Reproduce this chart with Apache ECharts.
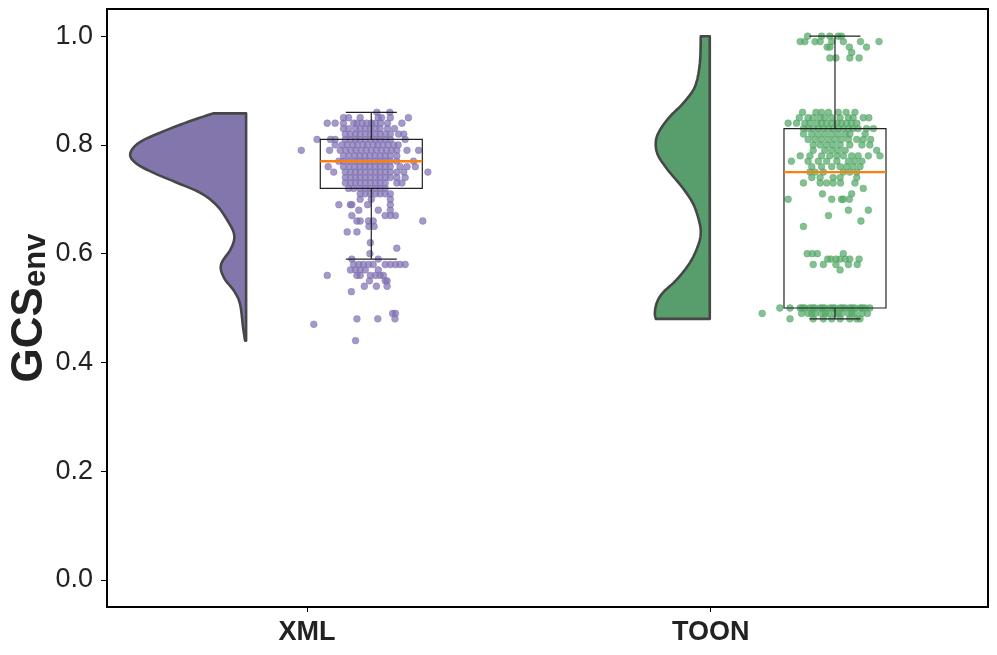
<!DOCTYPE html>
<html>
<head>
<meta charset="utf-8">
<script src="https://cdn.jsdelivr.net/npm/echarts@6/dist/echarts.min.js"></script>
<style>
html,body{margin:0;padding:0;background:#fff;}
#chart{width:997px;height:655px;}
</style>
</head>
<body>
<div id="chart"></div>
<script>
// ---------------- data ----------------
const categories = ['XML', 'TOON'];
const yAxisTitle = ['GCS', 'env'];
const groupPos = [0, 1];
const tickPos = [-0.0185, 0.852];
const yTicks = [0, 0.2, 0.4, 0.6, 0.8, 1.0];

// half-violin profiles (value, relative density)
const xmlViolinY = [0.858, 0.8425, 0.821, 0.803, 0.783, 0.766, 0.748, 0.7296, 0.711, 0.690, 0.665, 0.635, 0.610, 0.580, 0.5555, 0.531, 0.507, 0.464, 0.44];
const xmlViolinD = [0.284, 0.50, 0.759, 0.931, 1.0, 0.948, 0.793, 0.586, 0.388, 0.259, 0.172, 0.103, 0.129, 0.216, 0.19, 0.103, 0.052, 0.026, 0.009];
const toonViolinY = [1.0, 0.949, 0.9066, 0.876, 0.852, 0.827, 0.806, 0.7815, 0.754, 0.723, 0.693, 0.662, 0.638, 0.6136, 0.583, 0.5525, 0.528, 0.5097, 0.491, 0.48];
const toonViolinD = [0.164, 0.182, 0.273, 0.491, 0.727, 0.909, 0.982, 0.945, 0.764, 0.509, 0.309, 0.2, 0.164, 0.218, 0.364, 0.6, 0.855, 0.964, 1.0, 0.982];

// box statistics
const boxQ1 = [0.72, 0.50];
const boxMed = [0.77, 0.75];
const boxQ3 = [0.81, 0.83];
const whiskLo = [0.59, 0.48];
const whiskHi = [0.86, 1.00];

// jittered points: [value, jitter]
const xmlPoints = [
[0.86,0.040],[0.86,0.012],
[0.85,-0.060],[0.85,-0.049],[0.85,-0.024],[0.85,0.015],[0.85,0.022],[0.85,0.041],[0.85,0.080],
[0.84,-0.095],[0.84,-0.078],[0.84,-0.060],[0.84,-0.038],[0.84,-0.031],[0.84,-0.020],[0.84,-0.010],[0.84,0.000],[0.84,0.009],[0.84,0.020],[0.84,0.035],[0.84,0.066],
[0.83,-0.060],[0.83,-0.049],[0.83,-0.034],[0.83,-0.024],[0.83,-0.013],[0.83,-0.002],[0.83,0.009],[0.83,0.019],[0.83,0.035],[0.83,0.050],
[0.82,-0.056],[0.82,-0.045],[0.82,-0.034],[0.82,-0.024],[0.82,-0.013],[0.82,-0.002],[0.82,0.009],[0.82,0.019],[0.82,0.030],[0.82,0.041],[0.82,0.059],[0.82,0.070],
[0.81,-0.117],[0.81,-0.088],[0.81,-0.078],[0.81,-0.056],[0.81,-0.045],[0.81,-0.034],[0.81,-0.024],[0.81,-0.013],[0.81,-0.002],[0.81,0.009],[0.81,0.019],[0.81,0.030],[0.81,0.041],[0.81,0.073],
[0.80,-0.078],[0.80,-0.063],[0.80,-0.052],[0.80,-0.040],[0.80,-0.030],[0.80,-0.018],[0.80,-0.008],[0.80,0.004],[0.80,0.014],[0.80,0.025],[0.80,0.036],[0.80,0.048],[0.80,0.058],
[0.79,-0.151],[0.79,-0.090],[0.79,-0.067],[0.79,-0.055],[0.79,-0.044],[0.79,-0.033],[0.79,-0.022],[0.79,-0.011],[0.79,0.000],[0.79,0.011],[0.79,0.022],[0.79,0.033],[0.79,0.044],[0.79,0.055],[0.79,0.077],[0.79,0.102],
[0.78,-0.060],[0.78,-0.048],[0.78,-0.036],[0.78,-0.025],[0.78,-0.014],[0.78,-0.003],[0.78,0.008],[0.78,0.019],[0.78,0.030],[0.78,0.041],[0.78,0.055],
[0.77,-0.070],[0.77,-0.060],[0.77,-0.048],[0.77,-0.036],[0.77,-0.025],[0.77,-0.014],[0.77,-0.003],[0.77,0.008],[0.77,0.019],[0.77,0.030],[0.77,0.041],[0.77,0.055],[0.77,0.091],
[0.76,-0.093],[0.76,-0.060],[0.76,-0.048],[0.76,-0.036],[0.76,-0.025],[0.76,-0.014],[0.76,-0.003],[0.76,0.008],[0.76,0.019],[0.76,0.030],[0.76,0.041],[0.76,0.062],[0.76,0.077],[0.76,0.095],
[0.75,-0.081],[0.75,-0.056],[0.75,-0.045],[0.75,-0.034],[0.75,-0.024],[0.75,-0.013],[0.75,-0.002],[0.75,0.009],[0.75,0.019],[0.75,0.030],[0.75,0.041],[0.75,0.055],[0.75,0.070],[0.75,0.122],
[0.74,-0.056],[0.74,-0.045],[0.74,-0.034],[0.74,-0.024],[0.74,-0.013],[0.74,-0.002],[0.74,0.009],[0.74,0.019],[0.74,0.030],[0.74,0.041],[0.74,0.055],[0.74,0.073],
[0.73,-0.056],[0.73,-0.045],[0.73,-0.034],[0.73,-0.024],[0.73,-0.013],[0.73,-0.002],[0.73,0.009],[0.73,0.019],[0.73,0.030],[0.73,0.055],[0.73,0.066],
[0.72,-0.049],[0.72,-0.038],[0.72,-0.024],[0.72,-0.013],[0.72,-0.002],[0.72,0.009],[0.72,0.019],[0.72,0.030],
[0.71,-0.024],[0.71,-0.013],[0.71,-0.002],[0.71,0.009],[0.71,0.019],[0.71,0.030],[0.71,0.041],
[0.70,-0.024],[0.70,0.000],[0.70,0.041],
[0.69,-0.070],[0.69,-0.045],[0.69,-0.042],[0.69,-0.008],[0.69,0.041],
[0.68,-0.027],[0.68,0.015],[0.68,0.041],
[0.67,-0.042],[0.67,0.030],[0.67,0.041],[0.67,0.052],
[0.66,-0.031],[0.66,-0.024],[0.66,-0.006],[0.66,0.004],[0.66,0.111],
[0.65,-0.005],[0.65,0.006],
[0.64,-0.052],[0.64,-0.031],
[0.62,-0.002],[0.61,0.055],[0.60,-0.003],
[0.59,-0.042],[0.59,0.015],
[0.58,-0.038],[0.58,-0.027],[0.58,-0.017],[0.58,-0.006],[0.58,0.004],[0.58,0.030],[0.58,0.041],[0.58,0.052],[0.58,0.062],[0.58,0.073],
[0.57,-0.045],[0.57,-0.034],[0.57,-0.024],[0.57,-0.013],[0.57,0.015],
[0.56,-0.095],[0.56,-0.031],[0.56,-0.024],[0.56,-0.002],[0.56,0.009],[0.56,0.019],[0.56,0.026],
[0.55,-0.004],[0.55,0.030],[0.55,0.034],
[0.54,-0.015],[0.54,0.011],[0.54,0.034],
[0.53,-0.043],
[0.49,0.046],[0.49,0.052],
[0.48,-0.031],[0.48,0.014],[0.48,0.051],
[0.47,-0.124],
[0.44,-0.034]
];

const toonPoints = [
[1.00,-0.059],[1.00,-0.029],[1.00,-0.011],[1.00,0.007],[1.00,0.014],
[0.99,-0.075],[0.99,-0.065],[0.99,-0.043],[0.99,-0.032],[0.99,-0.007],[0.99,0.018],[0.99,0.055],[0.99,0.095],
[0.98,-0.017],[0.98,-0.011],[0.98,0.031],[0.98,0.068],
[0.97,0.036],
[0.96,-0.011],[0.96,0.002],[0.96,0.032],[0.96,0.052],
[0.86,-0.070],[0.86,-0.041],[0.86,-0.029],[0.86,-0.014],[0.86,0.007],[0.86,0.024],[0.86,0.043],
[0.85,-0.077],[0.85,-0.058],[0.85,-0.047],[0.85,-0.032],[0.85,-0.022],[0.85,-0.007],[0.85,0.011],[0.85,0.029],[0.85,0.039],[0.85,0.061],[0.85,0.073],
[0.84,-0.101],[0.84,-0.083],[0.84,-0.065],[0.84,-0.054],[0.84,-0.039],[0.84,-0.029],[0.84,-0.018],[0.84,-0.007],[0.84,0.004],[0.84,0.014],[0.84,0.025],[0.84,0.036],[0.84,0.047],
[0.83,-0.068],[0.83,-0.058],[0.83,-0.047],[0.83,-0.036],[0.83,-0.025],[0.83,-0.014],[0.83,-0.004],[0.83,0.007],[0.83,0.018],[0.83,0.029],[0.83,0.039],[0.83,0.050],[0.83,0.068],[0.83,0.083],
[0.82,-0.068],[0.82,-0.050],[0.82,-0.036],[0.82,-0.022],[0.82,-0.007],[0.82,0.007],[0.82,0.022],[0.82,0.032],[0.82,0.065],
[0.81,-0.058],[0.81,-0.043],[0.81,-0.029],[0.81,-0.014],[0.81,0.000],[0.81,0.014],[0.81,0.029],[0.81,0.047],[0.81,0.061],[0.81,0.077],
[0.80,-0.047],[0.80,-0.032],[0.80,-0.018],[0.80,-0.004],[0.80,0.011],[0.80,0.032],[0.80,0.058],[0.80,0.075],
[0.79,-0.047],[0.79,-0.022],[0.79,-0.007],[0.79,0.007],[0.79,0.022],[0.79,0.090],
[0.78,-0.075],[0.78,-0.054],[0.78,-0.029],[0.78,-0.011],[0.78,0.004],[0.78,0.018],[0.78,0.036],[0.78,0.050],[0.78,0.072],[0.78,0.097],
[0.77,-0.094],[0.77,-0.058],[0.77,-0.036],[0.77,-0.018],[0.77,0.004],[0.77,0.029],[0.77,0.043],[0.77,0.058],
[0.76,-0.050],[0.76,-0.029],[0.76,-0.007],[0.76,0.011],[0.76,0.025],[0.76,0.039],[0.76,0.054],
[0.75,-0.054],[0.75,-0.043],[0.75,-0.025],[0.75,0.018],[0.75,0.032],[0.75,0.047],
[0.74,-0.050],[0.74,-0.032],[0.74,-0.004],[0.74,0.011],[0.74,0.047],
[0.73,-0.068],[0.73,-0.032],[0.73,-0.018],[0.73,-0.004],[0.73,0.012],[0.73,0.043],
[0.72,0.061],
[0.71,-0.027],[0.71,0.036],
[0.70,-0.101],[0.70,-0.007],[0.70,0.014],[0.70,0.018],[0.70,0.031],
[0.68,0.029],[0.68,0.072],
[0.67,-0.014],[0.66,0.056],[0.65,-0.068],
[0.60,-0.060],[0.60,-0.049],[0.60,-0.038],[0.60,0.018],
[0.59,-0.016],[0.59,-0.009],[0.59,0.002],[0.59,0.011],[0.59,0.022],[0.59,0.032],[0.59,0.052],
[0.58,-0.047],[0.58,-0.025],[0.58,0.002],[0.58,0.029],[0.58,0.048],
[0.57,0.011],
[0.50,-0.119],[0.50,-0.097],[0.50,-0.075],[0.50,-0.065],[0.50,-0.054],[0.50,-0.043],[0.50,-0.032],[0.50,-0.022],[0.50,-0.011],[0.50,0.000],[0.50,0.011],[0.50,0.022],[0.50,0.032],[0.50,0.043],[0.50,0.054],[0.50,0.065],[0.50,0.075],
[0.50,-0.070],[0.50,-0.048],[0.50,-0.027],[0.50,-0.005],[0.50,0.016],[0.50,0.037],[0.50,0.059],
[0.49,-0.157],[0.49,-0.072],[0.49,-0.058],[0.49,-0.043],[0.49,-0.029],[0.49,-0.014],[0.49,0.000],[0.49,0.014],[0.49,0.029],[0.49,0.043],[0.49,0.058],[0.49,0.070],
[0.49,-0.050],[0.49,-0.021],[0.49,0.007],[0.49,0.036],
[0.48,-0.097],[0.48,-0.047],[0.48,-0.025],[0.48,-0.007],[0.48,0.011],[0.48,0.032],[0.48,0.047],[0.48,0.054]
];

// ---------------- layout / style ----------------
const violinOffset = -0.15;
const violinMaxW = [0.25, 0.1185];
const boxOffset = 0.12;
const boxWidth = 0.22;
const capWidth = 0.11;
const violinColors = ['#8376ad', '#589d6c'];
const pointColors = ['#8172b3', '#55a868'];
const FONT = '"Liberation Sans", Arial, Helvetica, sans-serif';

const violinProfiles = [[xmlViolinY, xmlViolinD], [toonViolinY, toonViolinD]];

function catmull(pts, steps) {
  const out = [];
  for (let i = 0; i < pts.length - 1; i++) {
    const p0 = pts[Math.max(0, i - 1)], p1 = pts[i], p2 = pts[i + 1], p3 = pts[Math.min(pts.length - 1, i + 2)];
    for (let s = 0; s < steps; s++) {
      const t = s / steps, t2 = t * t, t3 = t2 * t;
      const f = (a, b, c, d) => 0.5 * (2 * b + (-a + c) * t + (2 * a - 5 * b + 4 * c - d) * t2 + (-a + 3 * b - 3 * c + d) * t3);
      out.push([f(p0[0], p1[0], p2[0], p3[0]), f(p0[1], p1[1], p2[1], p3[1])]);
    }
  }
  out.push(pts[pts.length - 1]);
  return out;
}

const chart = echarts.init(document.getElementById('chart'), null, {renderer: 'canvas'});

const violinSeries = {
  type: 'custom',
  z: 2,
  clip: true,
  data: groupPos.map((p, i) => [p + violinOffset, violinProfiles[i][0][0], i]),
  encode: {x: 0, y: 1},
  renderItem: function (params, api) {
    const i = params.dataIndex;
    const edge = groupPos[i] + violinOffset;
    const ys = violinProfiles[i][0], ds = violinProfiles[i][1];
    const curve = ys.map((y, k) => api.coord([edge - ds[k] * violinMaxW[i], y]));
    const smooth = catmull(curve, 8);
    const bottom = api.coord([edge, ys[ys.length - 1]]);
    const top = api.coord([edge, ys[0]]);
    const pts = smooth.concat([bottom, top]);
    return {
      type: 'polygon',
      shape: {points: pts},
      style: {fill: violinColors[i], stroke: '#474747', lineWidth: 2.6, lineJoin: 'round'}
    };
  }
};

const boxSeries = {
  type: 'custom',
  z: 4,
  data: groupPos.map((p, i) => [p + boxOffset, whiskLo[i], whiskHi[i], i]),
  encode: {x: 0, y: [1, 2]},
  renderItem: function (params, api) {
    const i = params.dataIndex;
    const c = groupPos[i] + boxOffset;
    const l = api.coord([c - boxWidth / 2, boxQ3[i]]);
    const r = api.coord([c + boxWidth / 2, boxQ1[i]]);
    const mL = api.coord([c - boxWidth / 2, boxMed[i]]);
    const mR = api.coord([c + boxWidth / 2, boxMed[i]]);
    const q3 = api.coord([c, boxQ3[i]]);
    const q1 = api.coord([c, boxQ1[i]]);
    const hi = api.coord([c, whiskHi[i]]);
    const lo = api.coord([c, whiskLo[i]]);
    const capL = api.coord([c - capWidth / 2, 0])[0];
    const capR = api.coord([c + capWidth / 2, 0])[0];
    const ls = {stroke: '#222', lineWidth: 1.2, fill: null};
    return {
      type: 'group',
      children: [
        {type: 'rect', shape: {x: l[0], y: l[1], width: r[0] - l[0], height: r[1] - l[1]}, style: ls},
        {type: 'line', shape: {x1: q3[0], y1: q3[1], x2: hi[0], y2: hi[1]}, style: ls},
        {type: 'line', shape: {x1: q1[0], y1: q1[1], x2: lo[0], y2: lo[1]}, style: ls},
        {type: 'line', shape: {x1: capL, y1: hi[1], x2: capR, y2: hi[1]}, style: ls},
        {type: 'line', shape: {x1: capL, y1: lo[1], x2: capR, y2: lo[1]}, style: ls},
        {type: 'line', shape: {x1: mL[0], y1: mL[1], x2: mR[0], y2: mR[1]}, style: {stroke: '#ff7f0e', lineWidth: 2.4}}
      ]
    };
  }
};

const pointSeries = [xmlPoints, toonPoints].map((pts, i) => ({
  type: 'scatter',
  z: 3,
  symbol: 'circle',
  symbolSize: 6.8,
  data: pts.map(p => [groupPos[i] + boxOffset + p[1], p[0]]),
  itemStyle: {color: pointColors[i], opacity: 0.72, borderColor: pointColors[i], borderWidth: 0.6},
  silent: true
}));

chart.setOption({
  backgroundColor: '#fff',
  animation: false,
  grid: {left: 107, right: 9, top: 9, bottom: 48, containLabel: false, outerBoundsMode: 'none', show: true, borderColor: '#000', borderWidth: 2, backgroundColor: 'transparent'},
  graphic: [{
    type: 'text',
    x: 30, y: 308,
    rotation: Math.PI / 2,
    silent: true,
    style: {
      text: '{a|' + yAxisTitle[0] + '}{b|' + yAxisTitle[1] + '}',
      align: 'center', verticalAlign: 'middle',
      rich: {
        a: {fontFamily: FONT, fontSize: 44, fontWeight: 'bold', fill: '#222', lineHeight: 44, verticalAlign: 'middle'},
        b: {fontFamily: FONT, fontSize: 31, fontWeight: 'bold', fill: '#222', lineHeight: 22, verticalAlign: 'bottom'}
      }
    }
  }],
  xAxis: {
    type: 'value', min: -0.45, max: 1.45,
    splitLine: {show: false},
    axisLine: {show: true, onZero: false, lineStyle: {color: '#000', width: 2}},
    axisTick: {show: true, length: 5, customValues: tickPos, lineStyle: {color: '#000', width: 1}},
    axisLabel: {
      show: true, customValues: tickPos, margin: 12,
      fontFamily: FONT, fontSize: 27, fontWeight: 'bold', color: '#222',
      formatter: function (v) {
        let best = 0;
        tickPos.forEach((t, k) => { if (Math.abs(t - v) < Math.abs(tickPos[best] - v)) best = k; });
        return categories[best];
      }
    }
  },
  yAxis: {
    type: 'value', min: -0.05, max: 1.05,
    splitLine: {show: false},
    axisLine: {show: true, onZero: false, lineStyle: {color: '#000', width: 2}},
    axisTick: {show: true, length: 6, customValues: yTicks, lineStyle: {color: '#000', width: 1}},
    axisLabel: {
      show: true, customValues: yTicks, margin: 14,
      fontFamily: FONT, fontSize: 27, color: '#222',
      formatter: v => v.toFixed(1)
    }
  },
  series: [violinSeries, pointSeries[0], pointSeries[1], boxSeries]
});
</script>
</body>
</html>
